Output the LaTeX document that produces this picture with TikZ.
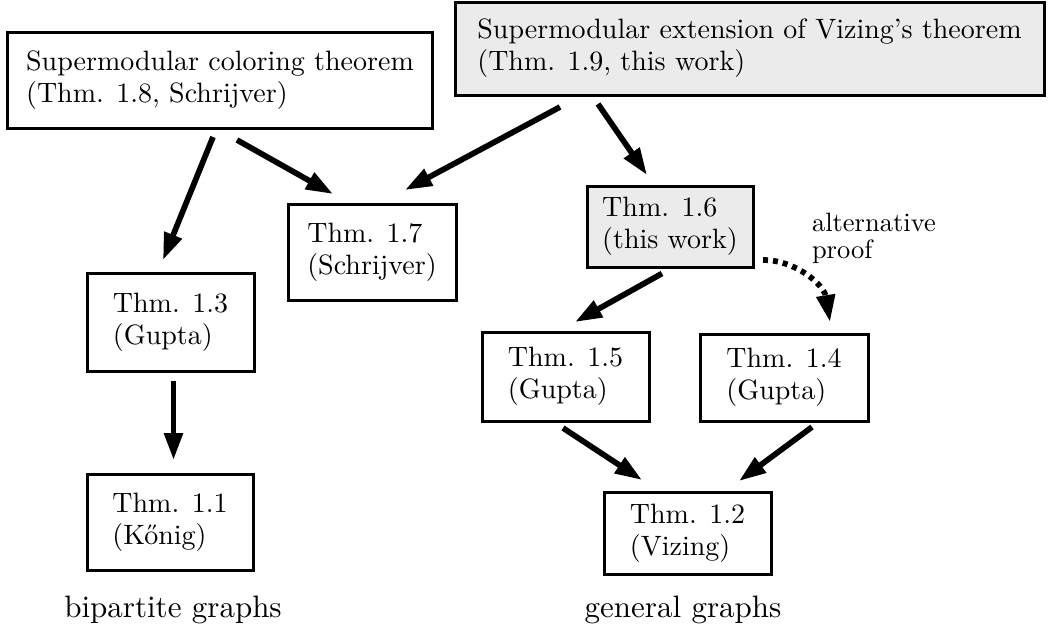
\documentclass[tikz,border=0pt]{standalone}
\usepackage{graphicx}
\usetikzlibrary{arrows.meta}
\newcommand{\boxtext}[2][2.8]{\scalebox{#1}{\fontsize{10}{11.4}\selectfont\begin{tabular}{@{}l@{}}#2\end{tabular}}}
\begin{document}
\begin{tikzpicture}[x=1pt,y=-1pt,
  box/.style={draw, line width=3pt, inner sep=0pt, outer sep=0pt, fill=white},
  shadedbox/.style={box, fill=black!8},
  arr/.style={line width=5.7pt, -{Triangle[length=27pt,width=18pt]}},
  dotarr/.style={arr, dash pattern=on 5pt off 5pt},
  lab/.style={inner sep=0pt, outer sep=0pt}]
\useasboundingbox (0,0) rectangle (1048,629);
% boxes
\node[box, minimum width=425pt, minimum height=96pt] (col) at (220,80)
  {\boxtext{Supermodular coloring theorem\\(Thm. 1.8, Schrijver)}};
\node[shadedbox, minimum width=589pt, minimum height=93pt] (viz) at (749.5,48.5)
  {\boxtext{Supermodular extension of Vizing's theorem\\(Thm. 1.9, this work)}};
\node[box, minimum width=168pt, minimum height=96pt] (n17) at (372,252)
  {\boxtext{Thm. 1.7\\(Schrijver)}};
\node[shadedbox, minimum width=166pt, minimum height=81pt] (n16) at (670,226.5)
  {\boxtext{Thm. 1.6\\(this work)}};
\node[box, minimum width=167pt, minimum height=98pt] (n13) at (170.5,322)
  {\boxtext{Thm. 1.3\\(Gupta)}};
\node[box, minimum width=167pt, minimum height=89pt] (n15) at (565.5,376.5)
  {\boxtext{Thm. 1.5\\(Gupta)}};
\node[box, minimum width=168pt, minimum height=87pt] (n14) at (784,377.5)
  {\boxtext{Thm. 1.4\\(Gupta)}};
\node[box, minimum width=166pt, minimum height=96pt] (n11) at (170,522)
  {\boxtext{Thm. 1.1\\(Kőnig)}};
\node[box, minimum width=167pt, minimum height=82pt] (n12) at (687.5,533)
  {\boxtext{Thm. 1.2\\(Vizing)}};
% labels
\node[lab] (lbip) at (173,610) {\scalebox{3.1}{bipartite graphs}};
\node[lab] (lgen) at (683,610) {\scalebox{3.1}{general graphs}};
\node[lab, anchor=north west] (lalt) at (812,213)
  {\scalebox{2.65}{\fontsize{10}{10.2}\selectfont\begin{tabular}{@{}l@{}}alternative\\proof\end{tabular}}};
% arrows
\draw[arr] ([shift={(-7,9)}]col.south) -- ([shift={(-7.5,-13)}]n13.north);
\draw[arr] ([shift={(17,12)}]col.south) -- ([shift={(-39,-10)}]n17.north);
\draw[arr] ([shift={(105,12)}]viz.south west) -- ([shift={(33,-14)}]n17.north);
\draw[arr] ([shift={(143,9)}]viz.south west) -- ([shift={(-23,-11)}]n16.north);
\draw[arr] ([shift={(-8,6.5)}]n16.south) -- ([shift={(9.5,-10)}]n15.north);
\draw[dotarr] ([shift={(10,-7)}]n16.south east) .. controls +(33,0) and +(-6,-37) .. ([shift={(46,-12)}]n14.north);
\draw[arr] ([shift={(3,10)}]n13.south) -- ([shift={(3.5,-14)}]n11.north);
\draw[arr] ([shift={(-2.5,7)}]n15.south) -- ([shift={(-45.5,-12)}]n12.north);
\draw[arr] ([shift={(28,6)}]n14.south) -- ([shift={(51.5,-11)}]n12.north);
\end{tikzpicture}
\end{document}
